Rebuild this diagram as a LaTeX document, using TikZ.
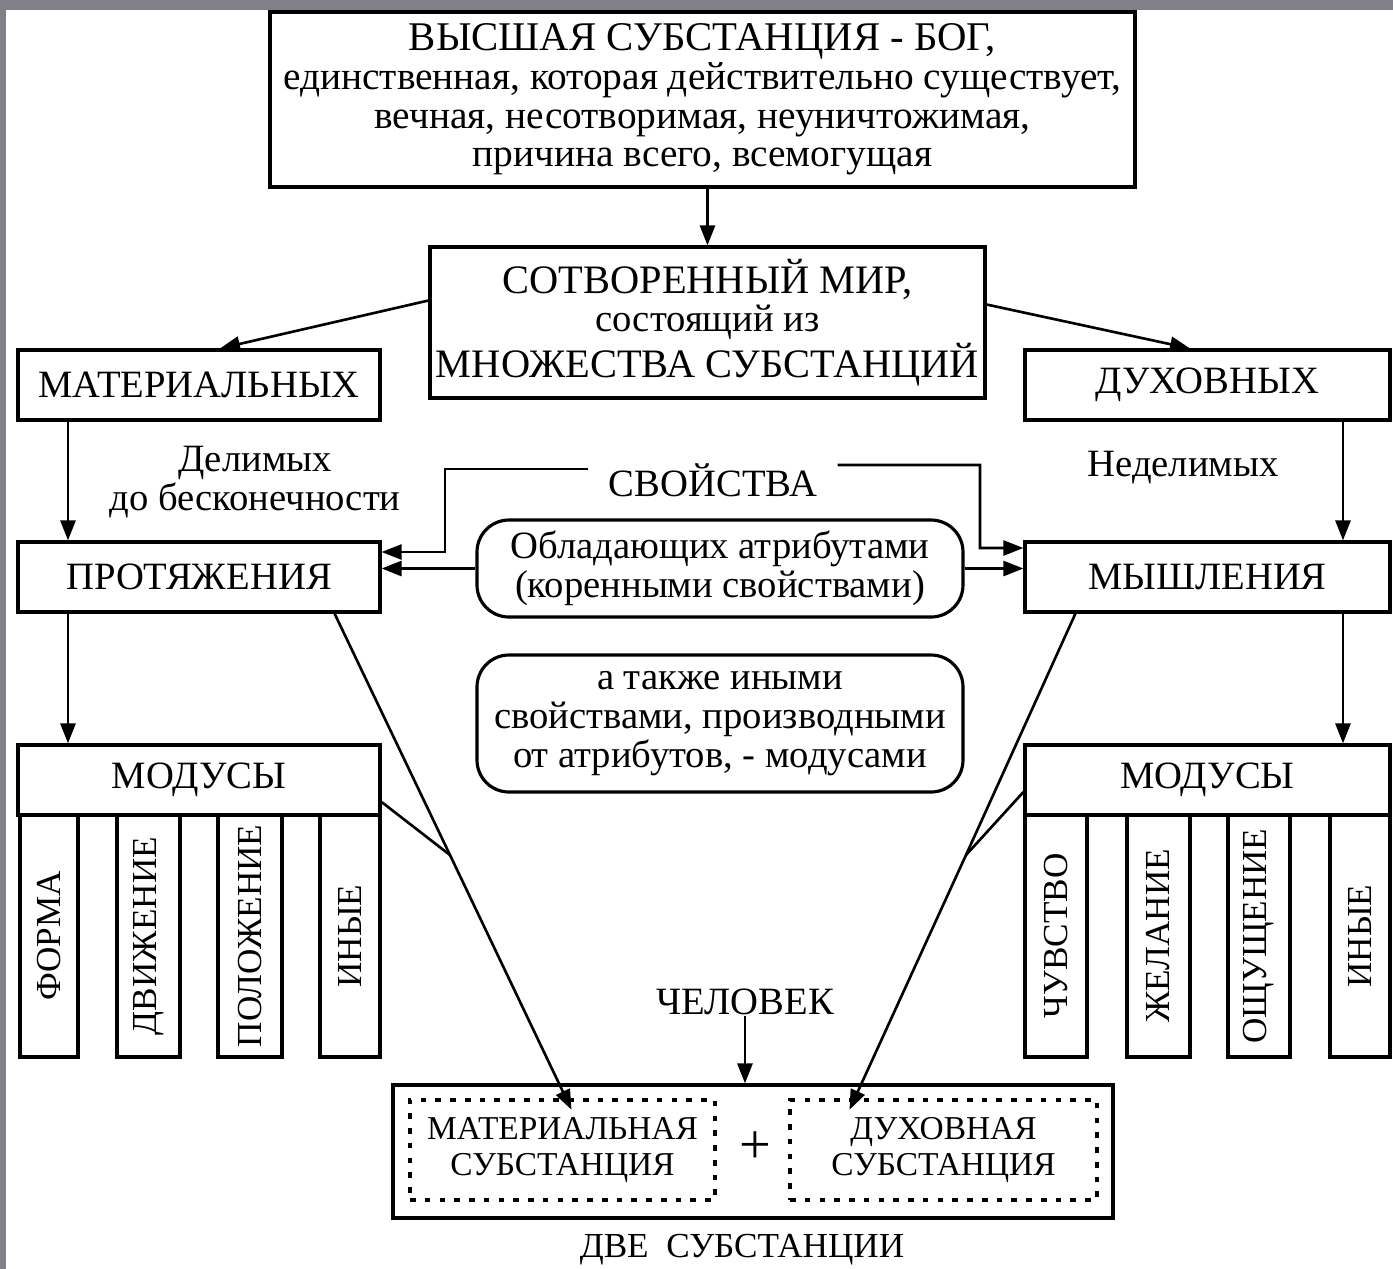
\documentclass[tikz,border=0pt]{standalone}
\usepackage{fontspec}
\setmainfont{Liberation Serif}
\usetikzlibrary{arrows.meta, positioning}

\definecolor{framegray}{RGB}{128,128,136}

\tikzset{
  box/.style={draw, line width=0.9pt, minimum height=0.70cm, inner sep=0pt,
    font=\fontsize{11}{13}\selectfont},
  roundbox/.style={draw, line width=0.9pt, rounded corners=0.32cm,
    minimum width=4.86cm, align=center, inner sep=0pt,
    font=\fontsize{11}{11}\selectfont},
  strip/.style={draw, line width=0.9pt, rotate=90, minimum width=2.42cm,
    inner sep=0pt, font=\fontsize{10}{11}\selectfont},
  dotbox/.style={draw, line width=1.3pt, dash pattern=on 1.6pt off 2.6pt,
    minimum width=3.05cm, minimum height=1.0cm, align=center, inner sep=0pt,
    font=\fontsize{9.5}{10}\selectfont},
  arr/.style={line width=0.75pt, -{Triangle[length=0.2cm,width=0.15cm]}},
  con/.style={line width=0.75pt},
  lbl/.style={inner sep=0pt, font=\fontsize{11}{11}\selectfont, align=center}
}

\begin{document}
\begin{tikzpicture}[x=1cm, y=-1cm]
  % Frame
  \useasboundingbox (0,0) rectangle (13.93,12.69);
  \fill[framegray] (0,0) rectangle (13.93,12.69);
  \fill[white] (0.06,0.10) rectangle (13.93,12.69);

  % God
  \node[box, minimum width=8.65cm, minimum height=1.75cm, align=center,
        font=\fontsize{11.2}{11}\selectfont] (god) at (7.025,0.995)
    {{\fontsize{11.6}{11}\selectfont ВЫСШАЯ СУБСТАНЦИЯ - БОГ,}\\
     единственная, которая действительно существует,\\
     вечная, несотворимая, неуничтожимая,\\
     причина всего, всемогущая};

  % World
  \node[box, minimum width=5.55cm, minimum height=1.51cm, align=center,
        font=\fontsize{11.5}{11}\selectfont] (world) at (7.075,3.225)
    {СОТВОРЕННЫЙ МИР,\\
     {\fontsize{11}{11}\selectfont состоящий из}\\
     МНОЖЕСТВА СУБСТАНЦИЙ};

  % Substances
  \node[box, minimum width=3.62cm] (mat) at (1.99,3.85) {МАТЕРИАЛЬНЫХ};
  \node[box, minimum width=3.65cm] (spir) at (12.075,3.85) {ДУХОВНЫХ};
  \node[lbl] (divis) at (2.55,4.82) {Делимых\\до бесконечности};
  \node[lbl] (indiv) at (11.83,4.68) {Неделимых};

  % Attributes
  \node[box, minimum width=3.62cm] (ext) at (1.99,5.77) {ПРОТЯЖЕНИЯ};
  \node[box, minimum width=3.65cm] (thought) at (12.075,5.77) {МЫШЛЕНИЯ};
  \node[inner sep=0pt, font=\fontsize{11}{11}\selectfont] (props) at (7.13,4.80) {СВОЙСТВА};
  \node[roundbox, minimum height=0.97cm] (attr) at (7.20,5.685)
    {Обладающих атрибутами\\(коренными свойствами)};
  \node[roundbox, minimum height=1.37cm] (derived) at (7.20,7.235)
    {а также иными\\свойствами, производными\\от атрибутов, - модусами};

  % Modi
  \node[box, minimum width=3.62cm] (modl) at (1.99,7.80) {МОДУСЫ};
  \node[box, minimum width=3.65cm] (modr) at (12.075,7.80) {МОДУСЫ};
  \node[strip, minimum height=0.58cm] (forma) at (0.49,9.36) {ФОРМА};
  \node[strip, minimum height=0.63cm] (motion) at (1.485,9.36) {ДВИЖЕНИЕ};
  \node[strip, minimum height=0.64cm] (place) at (2.50,9.36) {ПОЛОЖЕНИЕ};
  \node[strip, minimum height=0.60cm] (otherl) at (3.50,9.36) {ИНЫЕ};
  \node[strip, minimum height=0.62cm] (feel) at (10.56,9.36) {ЧУВСТВО};
  \node[strip, minimum height=0.63cm] (wish) at (11.585,9.36) {ЖЕЛАНИЕ};
  \node[strip, minimum height=0.62cm] (sense) at (12.59,9.36) {ОЩУЩЕНИЕ};
  \node[strip, minimum height=0.60cm] (otherr) at (13.60,9.36) {ИНЫЕ};

  % Man
  \node[inner sep=0pt, font=\fontsize{11}{11}\selectfont] (man) at (7.45,10.02) {ЧЕЛОВЕК};
  \node[box, minimum width=7.20cm, minimum height=1.33cm] (two) at (7.53,11.515) {};
  \node[dotbox] (matsub) at (5.625,11.50) {МАТЕРИАЛЬНАЯ\\СУБСТАНЦИЯ};
  \node[dotbox, minimum width=3.07cm] (spsub) at (9.435,11.50) {ДУХОВНАЯ\\СУБСТАНЦИЯ};
  \node[inner sep=0pt, font=\fontsize{16}{16}\selectfont] (plus) at (7.55,11.48) {+};
  \node[inner sep=0pt, font=\fontsize{10}{12}\selectfont] (twolbl) at (7.42,12.50) {ДВЕ\ \ СУБСТАНЦИИ};

  % Arrows
  \draw[arr] (world.north |- god.south) -- (world.north);
  \draw[arr] ([yshift=0.22cm]world.west) -- ([xshift=0.21cm]mat.north);
  \draw[arr] ([yshift=0.18cm]world.east) -- ([xshift=-0.175cm]spir.north);
  \draw[arr] ([xshift=-1.31cm]mat.south) -- ([xshift=-1.31cm]ext.north);
  \draw[arr] ([xshift=1.355cm]spir.south) -- ([xshift=1.355cm]thought.north);
  \draw[arr] ([xshift=-1.31cm]ext.south) -- ([xshift=-1.31cm]modl.north);
  \draw[arr] ([xshift=1.355cm]thought.south) -- ([xshift=1.355cm]modr.north);

  % Properties
  \draw[arr] ([xshift=-0.2cm,yshift=0.11cm]props.west) -- (4.45,4.69) -- (4.45,5.52)
    -- ([yshift=0.25cm]ext.east);
  \draw[arr] ([xshift=0.2cm,yshift=0.15cm]props.east) -- (9.80,4.65) -- (9.80,5.48)
    -- ([yshift=0.29cm]thought.west);
  \draw[arr] (attr.west) -- (attr.west -| ext.east);
  \draw[arr] (attr.east) -- (attr.east -| thought.west);

  % To man
  \coordinate (jl) at (4.50,8.55);
  \coordinate (jr) at (9.66,8.55);
  \draw[con] ([yshift=-0.22cm]modl.east) -- (jl);
  \draw[arr] ([xshift=-0.47cm]ext.south east) -- (jl) -- ([xshift=0.09cm,yshift=-0.12cm]matsub.north);
  \draw[con] ([yshift=-0.12cm]modr.west) -- (jr);
  \draw[arr] ([xshift=0.52cm]thought.south west) -- (jr) -- ([xshift=-0.94cm,yshift=-0.12cm]spsub.north);
  \draw[arr] (man.south) -- (man.south |- two.north);
\end{tikzpicture}
\end{document}
